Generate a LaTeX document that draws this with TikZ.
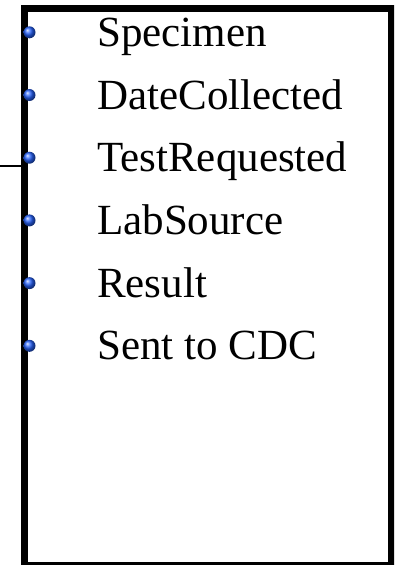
\documentclass[tikz,border=0pt]{standalone}
\usepackage{fontspec}
\setmainfont{Liberation Serif}
\begin{document}
\begin{tikzpicture}[x=1pt,y=-1pt,
  frame/.style={draw=black,line width=7pt},
  attr/.style={anchor=base west,inner sep=0pt,font=\fontsize{43}{43}\selectfont},
  dot/.style={circle,inner sep=0pt,minimum size=12pt,
              ball color={rgb,255:red,40;green,100;blue,255}}
]
\useasboundingbox (0,0) rectangle (394,565);
% entity frame, running off the lower and right edges
\begin{scope}
\clip (0,0) rectangle (394,565);
\draw[frame] (24.5,8.5) rectangle (391,565.5);
\end{scope}
\coordinate (box-w) at (24.5,166);
% lead-in connector on the left side
\coordinate (lead) at (0,166);
\draw[line width=1.5pt] (lead) -- (box-w);
% attribute list with bullets
\foreach \t [count=\i from 0] in {Specimen,DateCollected,TestRequested,LabSource,Result,Sent to CDC}{
  \pgfmathsetmacro{\yy}{32.3+62.7*\i}
  \node[dot] (b\i) at (29.5,\yy) {};
  \node[attr] (a\i) at (97,\yy+14) {\t};
}
\end{tikzpicture}
\end{document}
